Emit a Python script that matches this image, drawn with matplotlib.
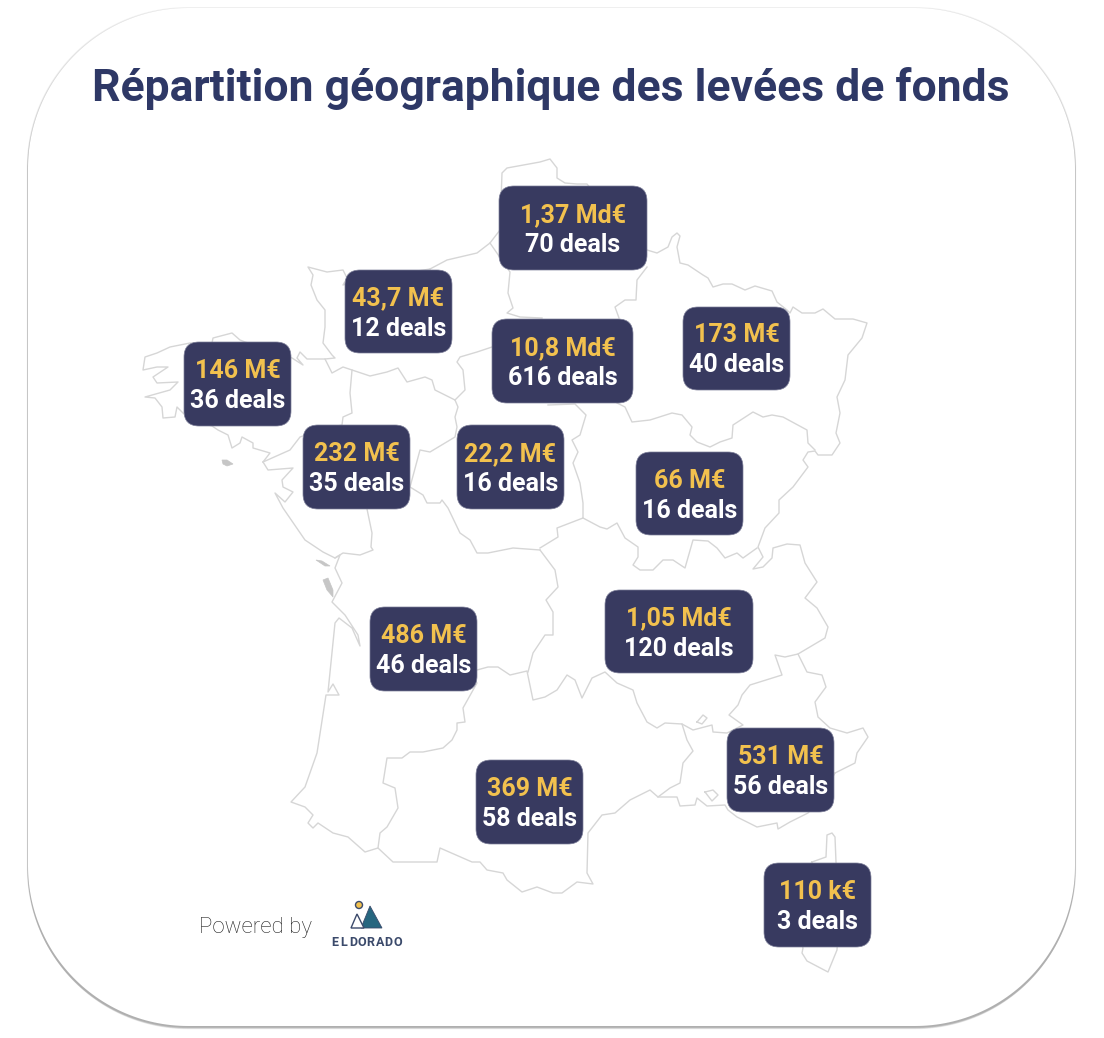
import numpy as np
import matplotlib
matplotlib.use("Agg")
import matplotlib.pyplot as plt
from matplotlib.patches import FancyBboxPatch, Polygon, Circle

plt.rcParams['font.family'] = ['Roboto', 'DejaVu Sans']

title = "Répartition géographique des levées de fonds"

# amounts and deals by region
amounts = ["1,37 Md€", "43,7 M€", "146 M€", "10,8 Md€", "173 M€", "232 M€", "22,2 M€",
           "66 M€", "486 M€", "1,05 Md€", "531 M€", "369 M€", "110 k€"]
deals = ["70 deals", "12 deals", "36 deals", "616 deals", "40 deals", "35 deals", "16 deals",
         "16 deals", "46 deals", "120 deals", "56 deals", "58 deals", "3 deals"]

# label box edges, in picture pixels
box_left = [499, 345, 184, 492, 683, 303, 457, 636, 370, 605, 727, 476, 764]
box_right = [647, 452, 291, 633, 790, 410, 564, 743, 477, 753, 834, 583, 871]
box_top = [186, 270, 342, 319, 307, 425, 425, 452, 607, 590, 728, 760, 863]
box_bottom = [270, 353, 426, 403, 390, 509, 509, 535, 691, 673, 812, 844, 947]

# map outlines
outer_north_east = [(430,269),(447,260),(477,253),(490,243),(500,230),(502,173),(507,168),(540,162),
    (550,159),(557,168),(557,178),(565,183),(577,184),(587,184),(600,200),(640,245),(647,250),(657,253),
    (668,247),(672,237),(677,233),(680,236),(677,247),(680,263),(688,265),(703,275),(708,278),(713,287),
    (723,284),(732,284),(745,290),(755,286),(772,291),(777,302),(787,310),(790,313),(793,307),(802,313),
    (815,313),(823,309),(835,319),(853,319),(867,323),(862,338),(848,355),(845,380),(837,397),(840,413),
    (836,433),(840,443),(832,455),(818,455),(815,451),(808,452),(803,460),(808,467),(793,487),(779,500),
    (779,513),(765,528),(758,547),(763,557),(753,569),(763,567),(772,558),(773,548),(787,544),(800,545),
    (805,563),(817,582),(805,598),(817,608),(828,627),(825,638),(798,654),(807,672),(822,675),(826,687),
    (815,702),(818,717),(830,728),(847,733),(863,728),(868,737),(857,753),(855,763),(835,773)]
outer_south = [(835,773),(820,800),(808,813),(790,822),(778,829),(777,823),(757,827),(737,817),(728,810),
    (725,805),(707,806),(697,798),(695,805),(680,806),(677,797),(658,797),(650,790),(630,800),(615,813),
    (602,815),(588,833),(587,873),(593,884),(577,882),(562,893),(553,893),(537,887),(522,892),(507,880),
    (503,873),(487,870),(480,862),(472,862),(440,848),(437,862),(393,862),(378,848),(365,852),(348,837),
    (333,833),(318,823),(313,828),(308,823),(313,815),(305,807),(291,802),(305,787),(317,753),(326,695),
    (339,695),(333,684),(328,692),(335,623),(339,618),(352,628),(360,646),(358,635),(345,615),(332,602),
    (342,583),(335,568),(340,555),(335,558),(323,552),(305,540),(283,508),(275,493),(285,502),(293,492),
    (283,487),(282,480),(293,468),(268,470),(263,462)]
brittany = [(263,462),(270,453),(253,448),(253,443),(242,437),(240,443),(232,448),(228,435),(218,430),
    (212,426),(190,420),(177,407),(175,417),(163,418),(162,407),(155,398),(145,397),(170,390),(178,382),
    (157,383),(153,377),(168,367),(157,367),(143,370),(145,357),(157,353),(170,347),(190,343),(212,343),
    (213,338),(232,333),(240,340),(245,342),(270,350),(292,358),(303,365),(297,358),(300,352),(307,359),
    (325,359),(335,358),(332,355),(323,343),(325,327),(325,310),(317,300),(311,285),(313,275),(308,267),
    (327,272),(343,270),(347,278),(343,285),(360,280),(430,269)]
brittany_border = [(263,462),(290,450),(300,437),(320,430),(342,425),(343,417),(352,413),(350,393),(352,370)]
normandy_border = [(325,359),(332,373),(343,367),(352,370),(370,376),(387,372),(398,368),(407,382),(425,377),
    (432,380),(435,390),(455,400),(458,407),(455,417),(457,427),(455,437),(430,452),(420,450),(410,487),
    (423,495),(427,503),(440,503),(442,500),(448,508),(460,533),(470,540),(477,553),(488,553),(513,548),(540,550)]
loire_south = [(335,558),(343,553),(360,555),(373,550),(371,547),(372,533),(367,509)]
idf_west = [(455,400),(465,390),(463,370),(457,362),(460,357),(477,352),(492,347)]
north_border = [(490,243),(510,272),(508,293),(513,308),(507,313),(520,317),(542,318)]
east_border = [(647,267),(637,280),(636,300),(625,300),(615,307),(619,318)]
grand_est_south = [(617,403),(625,407),(632,422),(650,420),(672,413),(682,415),(692,427),(690,435),(697,442),
    (710,447),(720,442),(732,438),(733,425),(753,412),(763,417),(772,415),(783,417),(807,430),(808,443),(815,450)]
centre_east = [(548,405),(575,404),(586,415),(583,425),(580,435),(572,440),(578,452),(573,463),(580,483),
    (583,503),(583,518),(557,528),(558,537),(540,548)]
burgundy_south = [(583,518),(600,527),(607,529),(617,523),(625,538),(638,547),(638,557),(633,565),(640,570),
    (653,570),(663,560),(673,560),(685,568),(693,540),(708,541),(717,548),(725,558),(737,553),(743,558),(757,548)]
aquitaine_east = [(540,550),(555,570),(558,587),(546,600),(553,612),(553,635),(545,635),(533,653),(528,672)]
aquitaine_south = [(460,670),(477,683),(463,708),(465,722),(457,723),(457,730),(452,740),(443,748),(423,752),
    (410,752),(402,758),(387,758),(383,783),(395,788),(398,808),(387,827),(380,833),(378,848)]
massif_south = [(477,670),(488,667),(498,667),(510,675),(527,671),(533,700),(545,697),(557,690),(567,675),
    (575,680),(582,698),(592,678),(605,672),(617,683),(633,690),(637,703),(647,722),(657,728),(665,723),
    (682,724),(687,740),(693,751),(683,763),(680,783),(670,788),(658,797)]
provence_north = [(682,724),(693,730),(712,725),(713,732),(727,733),(743,725),(729,715),(738,705),(742,695),
    (750,685),(782,675),(775,655),(785,657),(798,654)]
corsica = [(812,862),(826,857),(827,835),(832,833),(835,837),(836,862),(840,900),(837,950),(828,972),
    (807,961),(802,953),(803,948),(790,900),(812,862)]
valreas = [(697,722),(703,715),(707,718),(702,724),(697,722)]
etang_berre = [(705,792),(713,790),(718,795),(712,801),(705,792)]
map_lines = [outer_north_east, outer_south, brittany, brittany_border, normandy_border, loire_south, idf_west,
             north_border, east_border, grand_est_south, centre_east, burgundy_south, aquitaine_east,
             aquitaine_south, massif_south, provence_north, corsica, valreas, etang_berre]

# islands, filled grey
belle_ile = [(222,460),(227,460),(233,464),(227,466),(223,464)]
ile_de_re = [(316,560),(322,561),(330,566),(325,566)]
oleron = [(323,580),(328,578),(333,590),(333,597),(327,590)]
islands = [belle_ile, ile_de_re, oleron]

navy = "#383A60"
yellow = "#F2C14E"
line_grey = "#D6D6D6"
card_radius = 160


def card_outline(x0, y0, x1, y1, r):
    # rounded rectangle with true circular corners
    t = np.linspace(0, np.pi / 2, 60)
    pts = []
    for cx, cy, start in [(x1 - r, y0 + r, -np.pi / 2), (x1 - r, y1 - r, 0),
                          (x0 + r, y1 - r, np.pi / 2), (x0 + r, y0 + r, np.pi)]:
        pts.append(np.column_stack([cx + r * np.cos(start + t), cy + r * np.sin(start + t)]))
    return np.vstack(pts)


fig = plt.figure(figsize=(11.04, 10.38), dpi=100)
ax = fig.add_axes([0, 0, 1, 1])
ax.set_xlim(0, 1104)
ax.set_ylim(1038, 0)
ax.axis("off")

# soft shadow, only really visible along the bottom
for i in range(6):
    grow = 1.2 - i * 0.2
    drop = 0.3 + i * 0.55
    ax.add_patch(Polygon(card_outline(28 - grow, 8 - grow + drop, 1075 + grow, 1026 + grow + drop, card_radius),
                         closed=True, fc="#000000", ec="none", alpha=0.06, zorder=1))
ax.add_patch(Polygon(card_outline(28, 8, 1075, 1026, card_radius), closed=True, fc="white", ec="none", zorder=2))

ax.text(551, 88, title, fontsize=32, fontweight="bold", color="#2E3866",
        ha="center", va="center", zorder=5)

for line in map_lines:
    xy = np.array(line)
    ax.plot(xy[:, 0], xy[:, 1], color=line_grey, lw=1.0, solid_joinstyle="round", zorder=3)
for isl in islands:
    ax.add_patch(Polygon(isl, closed=True, fc="#C6C6C6", ec="#C6C6C6", lw=0.5, zorder=3))

for i in range(len(amounts)):
    x0, x1 = box_left[i], box_right[i]
    y0, y1 = box_top[i], box_bottom[i]
    ax.add_patch(FancyBboxPatch((x0, y0), x1 - x0, y1 - y0, boxstyle="round,pad=0,rounding_size=15",
                                fc=navy, ec="#7C7E98", lw=0.5, zorder=4))
    xc = (x0 + x1) / 2
    yc = (y0 + y1) / 2
    ax.text(xc, yc - 13, amounts[i], fontsize=18, fontweight="bold", color=yellow,
            ha="center", va="center", zorder=5)
    ax.text(xc, yc + 17, deals[i], fontsize=18, fontweight="bold", color="white",
            ha="center", va="center", zorder=5)

# powered by + logo
ax.text(255.5, 927, "Powered by", fontsize=16, fontweight="light", color="#222222",
        ha="center", va="center", zorder=5)
ax.add_patch(Polygon([(361, 928), (370, 906), (382, 928)], closed=True, fc="#26667F", ec="#3B4A6B", lw=0.6, zorder=5))
ax.add_patch(Polygon([(351, 928), (357, 914), (364, 928)], closed=True, fc="white", ec="#3B4A6B", lw=1, zorder=6))
ax.add_patch(Circle((359, 905), 3.5, fc="#F2C14E", ec="#3B4A6B", lw=1, zorder=5))
logo_xs = np.linspace(335, 397.5, 8)
for letter, lx in zip("ELDORADO", logo_xs):
    ax.text(lx, 943, letter, fontsize=9, fontweight="bold", color="#3B4A6B",
            ha="center", va="center", zorder=5)

fig.savefig("out.png", dpi=100)
